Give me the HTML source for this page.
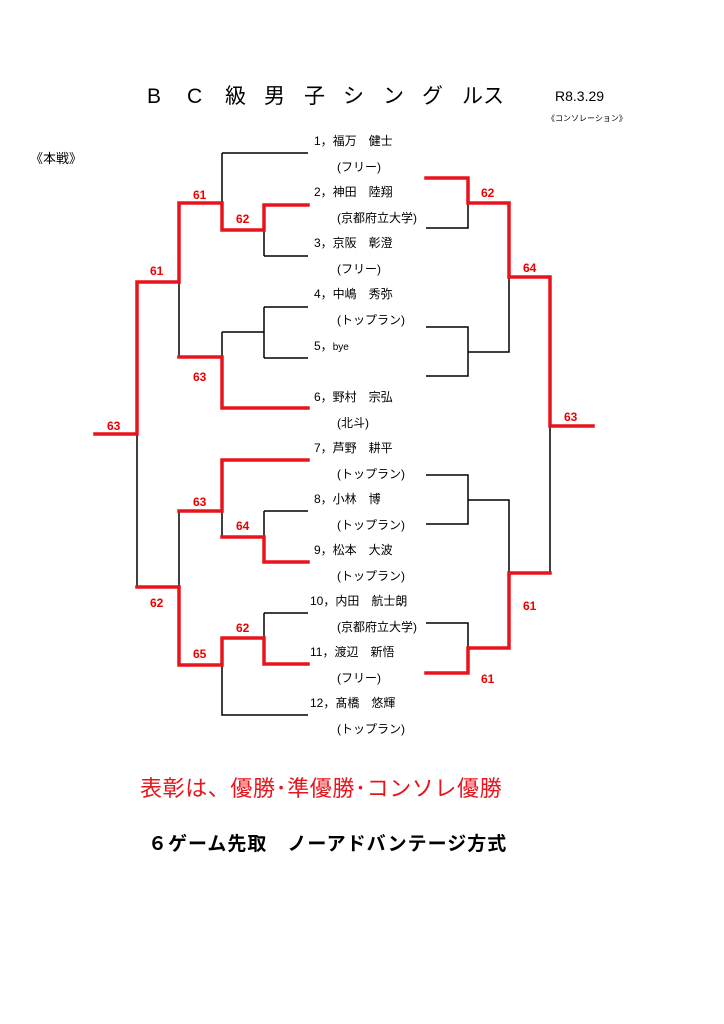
<!DOCTYPE html>
<html><head><meta charset="utf-8"><style>
html,body{margin:0;padding:0;background:#fff;}
svg{display:block;}
text{font-family:"Liberation Sans","Noto Sans CJK JP",sans-serif;}
.n{font-size:12px;fill:#000;}
.s{font-size:12px;font-weight:bold;fill:#e00;}
.k{stroke:#000;stroke-width:1.5;fill:none;}
.r{stroke:#e8141b;stroke-width:3.5;fill:none;stroke-linecap:square;}
</style></head><body>
<svg width="724" height="1024" viewBox="0 0 724 1024" xmlns="http://www.w3.org/2000/svg">
<g font-size="21" fill="#000">
<text x="147" y="103">B</text><text x="187" y="103">C</text><text x="225" y="103">級</text><text x="264" y="103">男</text><text x="304" y="103">子</text><text x="343" y="103">シ</text><text x="383" y="103">ン</text><text x="422" y="103">グ</text><text x="462" y="103">ル</text><text x="483" y="103">ス</text>
</g>
<text x="555" y="101" font-size="14">R8.3.29</text>
<text x="547" y="121" font-size="8">《コンソレーション》</text>
<text x="30" y="163" font-size="13">《本戦》</text>

<path class="k" d="M222 153H308M222 153V203M264 256H308M264 230V256M264 307H308M264 358H308M264 307V358M222 332H264M222 332V357M179 282V357M222 511V537M264 511H308M264 511V537M179 511V587M264 613H308M264 613V638M222 665V715H308M137 434V587"/>
<path class="r" d="M308 205H264V230H222V203H179V282H137V434H95"/>
<path class="r" d="M308 408H222V357H179"/>
<path class="r" d="M308 460H222V511H179"/>
<path class="r" d="M308 562H264V537H222"/>
<path class="r" d="M308 664H264V638H222V665H179V587H137"/>
<path class="k" d="M426 228H468V203M426 327H468V376H426M468 352H509V277M426 475H468V524H426M468 500H509V573M550 426V573M426 623H468V648"/>
<path class="r" d="M426 178H468V203H509V277H550V426H593"/>
<path class="r" d="M426 673H468V648H509V573H550"/>
<text class="s" x="193" y="199">61</text>
<text class="s" x="236" y="223">62</text>
<text class="s" x="150" y="275">61</text>
<text class="s" x="193" y="381">63</text>
<text class="s" x="107" y="430">63</text>
<text class="s" x="193" y="506">63</text>
<text class="s" x="236" y="530">64</text>
<text class="s" x="150" y="607">62</text>
<text class="s" x="236" y="632">62</text>
<text class="s" x="193" y="658">65</text>
<text class="s" x="481" y="197">62</text>
<text class="s" x="523" y="272">64</text>
<text class="s" x="564" y="421">63</text>
<text class="s" x="523" y="610">61</text>
<text class="s" x="481" y="683">61</text>
<g class="n">
<text x="314" y="145">1，福万　健士</text><text x="337" y="171">(フリー)</text>
<text x="314" y="196">2，神田　陸翔</text><text x="337" y="222">(京都府立大学)</text>
<text x="314" y="247">3，京阪　彰澄</text><text x="337" y="273">(フリー)</text>
<text x="314" y="298">4，中嶋　秀弥</text><text x="337" y="324">(トップラン)</text>
<text x="314" y="350">5，<tspan font-size="10">bye</tspan></text>
<text x="314" y="401">6，野村　宗弘</text><text x="337" y="427">(北斗)</text>
<text x="314" y="452">7，芦野　耕平</text><text x="337" y="478">(トップラン)</text>
<text x="314" y="503">8，小林　博</text><text x="337" y="529">(トップラン)</text>
<text x="314" y="554">9，松本　大波</text><text x="337" y="580">(トップラン)</text>
<text x="310" y="605">10，内田　航士朗</text><text x="337" y="631">(京都府立大学)</text>
<text x="310" y="656">11，渡辺　新悟</text><text x="337" y="682">(フリー)</text>
<text x="310" y="707">12，髙橋　悠輝</text><text x="337" y="733">(トップラン)</text>
</g>
<text x="140" y="796" font-size="22" letter-spacing="0.6" fill="#e8141b">表彰は、優勝･準優勝･コンソレ優勝</text>
<text x="148" y="850" font-size="19" font-weight="bold" letter-spacing="1" fill="#000">６ゲーム先取　ノーアドバンテージ方式</text>
</svg>
</body></html>
